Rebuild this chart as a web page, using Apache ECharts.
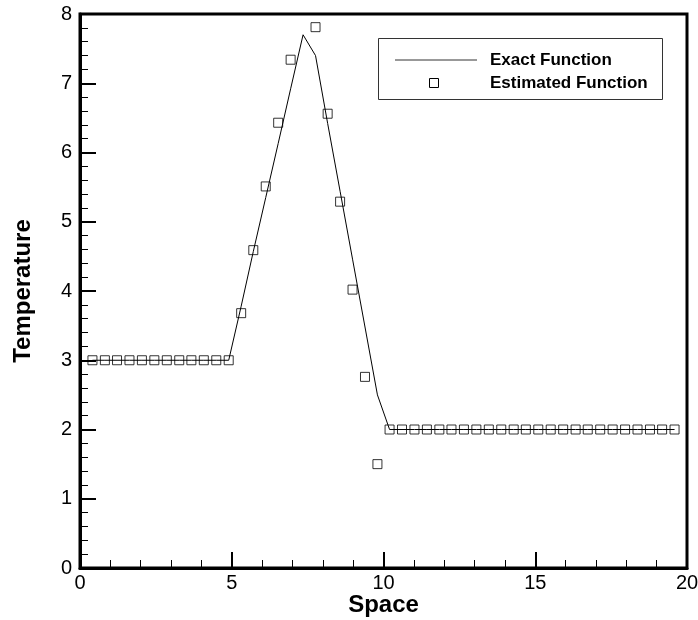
<!DOCTYPE html>
<html>
<head>
<meta charset="utf-8">
<script src="https://cdn.jsdelivr.net/npm/echarts@6/dist/echarts.min.js"></script>
<style>html,body{margin:0;padding:0;background:#fff}#c{width:698px;height:620px}</style>
</head>
<body>
<div id="c"></div>
<script>
// Exact function (line) vertices
var exactX = [0.41,0.82,1.22,1.63,2.04,2.45,2.86,3.27,3.67,4.08,4.49,4.90,
  5.31,5.71,6.12,6.53,6.94,7.35,7.76,8.16,8.57,8.98,9.39,9.80,
  10.20,10.61,11.02,11.43,11.84,12.24,12.65,13.06,13.47,13.88,14.29,14.69,
  15.10,15.51,15.92,16.33,16.73,17.14,17.55,17.96,18.37,18.78,19.18,19.59];
var exactY = [3,3,3,3,3,3,3,3,3,3,3,3,
  3.78,4.57,5.35,6.13,6.92,7.70,7.40,6.42,5.44,4.46,3.48,2.50,
  2,2,2,2,2,2,2,2,2,2,2,2,
  2,2,2,2,2,2,2,2,2,2,2,2];
// Estimated function (squares)
var estX = [0.41,0.82,1.22,1.63,2.04,2.45,2.86,3.27,3.67,4.08,4.49,4.90,
  5.31,5.71,6.12,6.53,6.94,7.76,8.16,8.57,8.98,9.39,9.80,
  10.20,10.61,11.02,11.43,11.84,12.24,12.65,13.06,13.47,13.88,14.29,14.69,
  15.10,15.51,15.92,16.33,16.73,17.14,17.55,17.96,18.37,18.78,19.18,19.59];
var estY = [3,3,3,3,3,3,3,3,3,3,3,3,
  3.68,4.59,5.51,6.43,7.34,7.81,6.56,5.29,4.02,2.76,1.50,
  2,2,2,2,2,2,2,2,2,2,2,2,
  2,2,2,2,2,2,2,2,2,2,2,2];
var seriesNames = ['Exact Function', 'Estimated Function'];
var xTitle = 'Space', yTitle = 'Temperature';

function zip(a, b) { return a.map(function (v, i) { return [v, b[i]]; }); }

var FONT = '"Liberation Sans", Arial, sans-serif';
var chart = echarts.init(document.getElementById('c'), null, {renderer: 'canvas'});
var axisCommon = {
  axisLine: {show: true, onZero: false, lineStyle: {color: '#000', width: 3}},
  axisTick: {show: true, inside: true, length: 16, lineStyle: {color: '#000', width: 2}},
  minorTick: {show: true, splitNumber: 5, length: 8, lineStyle: {color: '#000', width: 1}},
  splitLine: {show: false},
  axisLabel: {color: '#000', fontSize: 20, fontFamily: FONT},
  nameMoveOverlap: false,
  nameTextStyle: {color: '#000', fontSize: 24, fontWeight: 'bold', fontFamily: FONT}
};
chart.setOption({
  animation: false,
  backgroundColor: '#fff',
  grid: {left: 80, right: 11, top: 14, bottom: 52, show: true, borderColor: '#000', borderWidth: 3,
         containLabel: false, outerBoundsMode: 'none'},
  xAxis: Object.assign({}, axisCommon, {
    type: 'value', min: 0, max: 20, interval: 5,
    name: xTitle, nameLocation: 'middle', nameGap: 25,
    axisLabel: Object.assign({}, axisCommon.axisLabel, {margin: 5})
  }),
  yAxis: Object.assign({}, axisCommon, {
    type: 'value', min: 0, max: 8, interval: 1,
    name: yTitle, nameLocation: 'middle', nameGap: 45, nameRotate: 90,
    axisLabel: Object.assign({}, axisCommon.axisLabel, {margin: 8})
  }),
  series: [
    {name: seriesNames[0], type: 'line', data: zip(exactX, exactY), showSymbol: false,
     lineStyle: {color: '#000', width: 1}, z: 2},
    {name: seriesNames[1], type: 'scatter', data: zip(estX, estY), symbol: 'rect', symbolSize: 9,
     itemStyle: {color: 'rgba(255,255,255,0)', borderColor: '#000', borderWidth: 1}, z: 3}
  ],
  graphic: [
    {type: 'rect', shape: {x: 378.5, y: 38.5, width: 284, height: 61},
     style: {fill: '#fff', stroke: '#333', lineWidth: 1}, z: 10},
    {type: 'line', shape: {x1: 395, y1: 60, x2: 477, y2: 60},
     style: {stroke: '#333', lineWidth: 1}, z: 11},
    {type: 'rect', shape: {x: 429.5, y: 78.5, width: 9, height: 9},
     style: {fill: '#fff', stroke: '#000', lineWidth: 1}, z: 11},
    {type: 'text', x: 490, y: 60, style: {text: seriesNames[0], fill: '#000',
     font: 'bold 17px ' + FONT, verticalAlign: 'middle'}, z: 11},
    {type: 'text', x: 490, y: 83, style: {text: seriesNames[1], fill: '#000',
     font: 'bold 17px ' + FONT, verticalAlign: 'middle'}, z: 11}
  ]
});
</script>
</body>
</html>
